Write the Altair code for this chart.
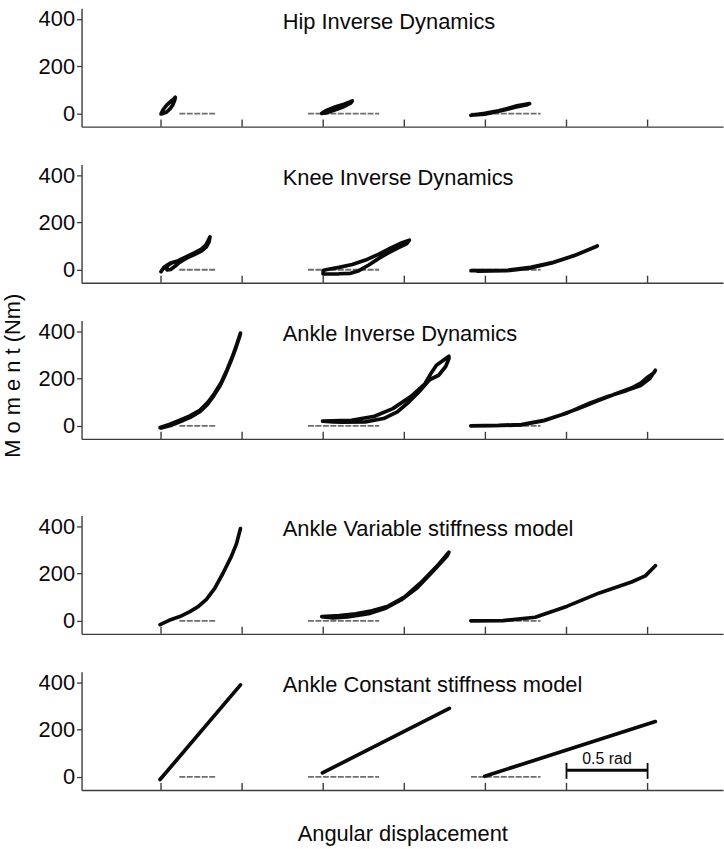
import altair as alt
import pandas as pd

# Angles are positions along the shared displacement axis (rad); moments in Nm.
PANEL_TITLES = [
    "Hip Inverse Dynamics",
    "Knee Inverse Dynamics",
    "Ankle Inverse Dynamics",
    "Ankle Variable stiffness model",
    "Ankle Constant stiffness model",
]

# --- Hip, inverse dynamics ---
HIP_A_ANGLE = [0.000, 0.014, 0.035, 0.059, 0.076, 0.088, 0.084, 0.072, 0.055, 0.035, 0.010, 0.000]
HIP_A_MOMENT = [-1, 18, 36, 51, 60, 69, 56, 36, 20, 7, 0, -1]
HIP_B_ANGLE = [0.991, 1.016, 1.077, 1.128, 1.160, 1.179, 1.169, 1.118, 1.067, 1.016, 0.991]
HIP_B_MOMENT = [1, 12, 29, 40, 48, 54, 44, 27, 14, 3, 1]
HIP_C_ANGLE = [1.911, 1.996, 2.081, 2.137, 2.194, 2.273, 2.260, 2.190, 2.130, 2.075, 1.996, 1.911]
HIP_C_MOMENT = [-7, 1, 12, 22, 33, 42, 38, 28, 18, 9, -2, -7]

# --- Knee, inverse dynamics ---
KNEE_A_ANGLE = [0.000, 0.018, 0.055, 0.106, 0.157, 0.208, 0.249, 0.276, 0.290, 0.302, 0.296,
                0.280, 0.249, 0.202, 0.157, 0.116, 0.086, 0.059, 0.039, 0.031, 0.045, 0.060]
KNEE_A_MOMENT = [-8, 10, 27, 38, 55, 72, 87, 104, 122, 139, 118,
                 97, 79, 63, 49, 32, 15, 1, -1, 5, 20, 27]
KNEE_B_ANGLE = [1.000, 1.016, 1.097, 1.179, 1.261, 1.343, 1.424, 1.486, 1.531, 1.516,
                1.465, 1.404, 1.343, 1.281, 1.220, 1.169, 1.097, 0.999, 1.000]
KNEE_B_MOMENT = [-3, 0, 10, 22, 41, 66, 94, 114, 125, 111,
                 94, 72, 48, 20, -4, -15, -17, -18, -3]
KNEE_C_ANGLE = [1.911, 2.040, 2.137, 2.279, 2.420, 2.561, 2.690, 2.680, 2.550, 2.410, 2.270, 2.130, 1.950]
KNEE_C_MOMENT = [-4, -4, -2, 10, 32, 63, 101, 97, 60, 29, 7, -4, -6]

# --- Ankle, inverse dynamics ---
ANKLE_ID_A_ANGLE = [-0.006, 0.055, 0.116, 0.178, 0.239, 0.290, 0.331, 0.372, 0.407, 0.439, 0.468, 0.490,
                    0.486, 0.462, 0.432, 0.400, 0.366, 0.326, 0.285, 0.240, 0.180, 0.120, 0.060, 0.000]
ANKLE_ID_A_MOMENT = [-7, 7, 24, 42, 66, 101, 139, 185, 237, 291, 347, 392,
                     380, 330, 275, 222, 172, 128, 90, 60, 36, 18, 2, -9]
ANKLE_ID_B_ANGLE = [0.996, 1.174, 1.316, 1.429, 1.542, 1.627, 1.670, 1.698, 1.741, 1.775,
                    1.775, 1.755, 1.712, 1.656, 1.599, 1.528, 1.457, 1.372, 1.259, 1.118, 1.061, 0.996]
ANKLE_ID_B_MOMENT = [20, 24, 41, 73, 125, 178, 228, 256, 277, 294,
                     284, 251, 214, 195, 150, 101, 59, 31, 17, 16, 17, 20]
ANKLE_ID_C_ANGLE = [1.910, 2.080, 2.221, 2.363, 2.505, 2.646, 2.759, 2.873, 2.957, 3.014, 3.048,
                    3.040, 3.000, 2.960, 2.900, 2.800, 2.700, 2.590, 2.470, 2.360, 2.220, 2.050, 1.910]
ANKLE_ID_C_MOMENT = [0, 2, 6, 24, 55, 97, 125, 150, 171, 200, 235,
                     225, 206, 182, 160, 135, 108, 78, 47, 22, 4, 1, 0]

# --- Ankle, variable stiffness model ---
ANKLE_VS_A_ANGLE = [-0.006, 0.050, 0.116, 0.178, 0.229, 0.280, 0.331, 0.382, 0.433, 0.465, 0.490]
ANKLE_VS_A_MOMENT = [-16, 2, 18, 39, 60, 91, 137, 201, 271, 325, 390]
ANKLE_VS_B_ANGLE = [0.991, 1.100, 1.200, 1.300, 1.400, 1.500, 1.600, 1.700, 1.775,
                    1.765, 1.680, 1.580, 1.480, 1.380, 1.280, 1.150, 1.060, 0.991]
ANKLE_VS_B_MOMENT = [18, 22, 30, 42, 62, 100, 160, 230, 290,
                     275, 212, 140, 88, 52, 30, 16, 12, 18]
ANKLE_VS_C_ANGLE = [1.910, 2.108, 2.307, 2.505, 2.703, 2.901, 2.986, 3.048]
ANKLE_VS_C_MOMENT = [0, 1, 15, 62, 118, 164, 190, 233]

# --- Ankle, constant stiffness model ---
ANKLE_CS_A_ANGLE = [-0.006, 0.490]
ANKLE_CS_A_MOMENT = [-11, 389]
ANKLE_CS_B_ANGLE = [0.995, 1.778]
ANKLE_CS_B_MOMENT = [17, 290]
ANKLE_CS_C_ANGLE = [1.996, 3.048]
ANKLE_CS_C_MOMENT = [3, 234]

# Zero-moment reference segments under each subject's loop
ZERO_START = [0.113, 0.906, 1.911]
ZERO_END = [0.339, 1.345, 2.340]

X_TICKS = [0.0, 0.5, 1.0, 1.5, 2.0, 2.5, 3.0]
Y_TICKS = [0, 200, 400]

# 0.5 rad scale bar
SCALE_START = 2.5
SCALE_END = 3.0
SCALE_LEVEL = 28
SCALE_CAP = [-8, 59]
SCALE_LABEL = "0.5 rad"

PANEL_CURVES = [
    [(HIP_A_ANGLE, HIP_A_MOMENT), (HIP_B_ANGLE, HIP_B_MOMENT), (HIP_C_ANGLE, HIP_C_MOMENT)],
    [(KNEE_A_ANGLE, KNEE_A_MOMENT), (KNEE_B_ANGLE, KNEE_B_MOMENT), (KNEE_C_ANGLE, KNEE_C_MOMENT)],
    [(ANKLE_ID_A_ANGLE, ANKLE_ID_A_MOMENT), (ANKLE_ID_B_ANGLE, ANKLE_ID_B_MOMENT),
     (ANKLE_ID_C_ANGLE, ANKLE_ID_C_MOMENT)],
    [(ANKLE_VS_A_ANGLE, ANKLE_VS_A_MOMENT), (ANKLE_VS_B_ANGLE, ANKLE_VS_B_MOMENT),
     (ANKLE_VS_C_ANGLE, ANKLE_VS_C_MOMENT)],
    [(ANKLE_CS_A_ANGLE, ANKLE_CS_A_MOMENT), (ANKLE_CS_B_ANGLE, ANKLE_CS_B_MOMENT),
     (ANKLE_CS_C_ANGLE, ANKLE_CS_C_MOMENT)],
]

X_DOMAIN = [-0.49, 3.465]
Y_DOMAIN = [-55, 445]
TICK_LEN = 30          # inward tick length, in Nm units of the panel
TITLE_ANGLE = 0.75
TITLE_MOMENT = 388

PLOT_W = 645
PLOT_H = 119
FONT = "Liberation Sans"
INK = "#0a0a0a"
AXIS_INK = "#3c3c3c"
ZERO_INK = "#6e6e6e"


def panel(title, curves, y_title=None, x_title=None, scale_bar=False):
    xs = alt.Scale(domain=X_DOMAIN, nice=False, zero=False)
    ys = alt.Scale(domain=Y_DOMAIN, nice=False, zero=False)
    x_axis_kw = dict(labels=False, ticks=False, grid=False, domainColor=AXIS_INK, domainWidth=1.4)
    if x_title:
        x_axis_kw.update(titleFontSize=22, titleFontWeight="normal", titlePadding=34, titleColor=INK)
    x_axis = alt.Axis(**x_axis_kw)
    y_axis_kw = dict(values=Y_TICKS, grid=False, tickSize=5, tickColor=AXIS_INK, tickWidth=1.3,
                     domainColor=AXIS_INK, domainWidth=1.4, labelFontSize=22, labelPadding=2,
                     labelColor=INK)
    if y_title:
        y_axis_kw.update(titleFontSize=22, titleFontWeight="normal", titlePadding=14,
                         titleColor=INK, titleY=55)
    y_axis = alt.Axis(**y_axis_kw)

    def X(field):
        return alt.X(field, scale=xs, axis=x_axis, title=x_title)

    def Y(field):
        return alt.Y(field, scale=ys, axis=y_axis, title=y_title)

    rows = []
    for ci, (ang, mom) in enumerate(curves):
        for i, (a, m) in enumerate(zip(ang, mom)):
            rows.append({"curve": ci, "order": i, "angle": a, "moment": m})
    curve_df = pd.DataFrame(rows)

    zero_df = pd.DataFrame({"angle": ZERO_START, "angle_end": ZERO_END, "moment": [0] * len(ZERO_START)})
    tick_df = pd.DataFrame({"angle": X_TICKS,
                            "moment": [Y_DOMAIN[0]] * len(X_TICKS),
                            "moment_end": [Y_DOMAIN[0] + TICK_LEN] * len(X_TICKS)})
    title_df = pd.DataFrame({"angle": [TITLE_ANGLE], "moment": [TITLE_MOMENT], "label": [title]})

    zero = alt.Chart(zero_df).mark_rule(color=ZERO_INK, strokeWidth=1.8, strokeDash=[6, 1.5]).encode(
        x=X("angle:Q"), x2="angle_end:Q", y=Y("moment:Q"))
    ticks = alt.Chart(tick_df).mark_rule(color=AXIS_INK, strokeWidth=1.4).encode(
        x=X("angle:Q"), y=Y("moment:Q"), y2="moment_end:Q")
    lines = alt.Chart(curve_df).mark_line(color=INK, strokeWidth=3.7, strokeCap="round",
                                          strokeJoin="round").encode(
        x=X("angle:Q"), y=Y("moment:Q"), detail="curve:N", order="order:Q")
    label = alt.Chart(title_df).mark_text(align="left", baseline="middle", font=FONT, fontSize=22,
                                          color=INK).encode(
        x=X("angle:Q"), y=Y("moment:Q"), text="label:N")

    layers = [zero, ticks, lines, label]
    if scale_bar:
        bar_df = pd.DataFrame({"angle": [SCALE_START], "angle_end": [SCALE_END], "moment": [SCALE_LEVEL]})
        cap_df = pd.DataFrame({"angle": [SCALE_START, SCALE_END],
                               "moment": [SCALE_CAP[0]] * 2, "moment_end": [SCALE_CAP[1]] * 2})
        txt_df = pd.DataFrame({"angle": [(SCALE_START + SCALE_END) / 2],
                               "moment": [SCALE_CAP[1] - 6], "label": [SCALE_LABEL]})
        layers += [
            alt.Chart(bar_df).mark_rule(color=INK, strokeWidth=3).encode(
                x=X("angle:Q"), x2="angle_end:Q", y=Y("moment:Q")),
            alt.Chart(cap_df).mark_rule(color=INK, strokeWidth=1.8).encode(
                x=X("angle:Q"), y=Y("moment:Q"), y2="moment_end:Q"),
            alt.Chart(txt_df).mark_text(align="center", baseline="alphabetic", font=FONT,
                                        fontSize=16, color=INK).encode(
                x=X("angle:Q"), y=Y("moment:Q"), text="label:N"),
        ]
    return alt.layer(*layers).properties(width=PLOT_W, height=PLOT_H)


rows = []
for i, (t, c) in enumerate(zip(PANEL_TITLES, PANEL_CURVES)):
    rows.append(panel(
        t, c,
        y_title="M o m e n t (Nm)" if i == 2 else None,
        x_title="Angular displacement" if i == 4 else None,
        scale_bar=(i == 4),
    ))

# Thin invisible band widening the gap between the inverse-dynamics and model panels
gap = alt.Chart(pd.DataFrame({"v": [0]})).mark_point(opacity=0).encode(
    x=alt.X("v:Q", axis=None), y=alt.Y("v:Q", axis=None)).properties(width=PLOT_W, height=1)

chart = alt.vconcat(rows[0], rows[1], rows[2], gap, rows[3], rows[4], spacing=38, bounds="flush").properties(
    padding={"left": 0, "top": 5, "right": 0, "bottom": 0}
).configure_view(stroke="transparent").configure_axis(labelFont=FONT, titleFont=FONT)

chart.save("out.html", embed_options={"renderer": "svg", "actions": False})
